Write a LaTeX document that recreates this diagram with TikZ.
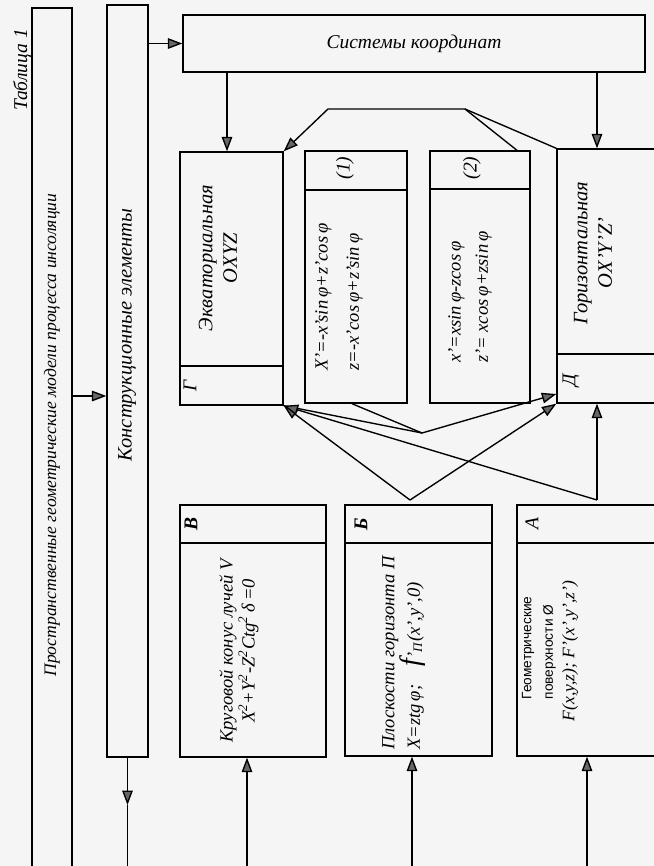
\documentclass[tikz,border=0pt]{standalone}
\usepackage{fontspec}
\setmainfont{Liberation Serif}
\newfontfamily\sansf{Liberation Sans}
\usetikzlibrary{arrows.meta,fit}

\begin{document}
\begin{tikzpicture}[x=0.18mm,y=-0.18mm,line width=0.7pt,
  >={Triangle[length=2.6mm,width=1.9mm,fill=black!60]},
  box/.style={draw,inner sep=0pt,fit={#1}},
  txt/.style={rotate=90,inner sep=0pt,align=center,font=\fontsize{10}{13}\selectfont\itshape},
  letter/.style={rotate=90,inner sep=0pt,font=\fontsize{10}{12}\selectfont\itshape}]
\useasboundingbox (0,0) rectangle (654,866);
\fill[black!4] (0,0) rectangle (654,866);
\clip (0,0) rectangle (654,866);

\node[txt] (tab) at (22,70) {Таблица 1};
\node[box={(32,8) (72,880)}] (models) {};
\node[txt,font=\fontsize{9}{12}\selectfont\itshape] (modelst) at (52,435) {Пространственные геометрические модели процесса инсоляции};
\node[box={(107,5) (148,757)}] (konstr) {};
\node[txt,font=\fontsize{10.5}{14}\selectfont\itshape] (konstrt) at (127,335) {Конструкционные элементы};
\node[box={(183,15) (645,72)}] (sys) {};
\node[txt,rotate=-90] (syst) at (sys.center) {Системы координат};

\node[box={(180,152) (283,405)}] (eq) {};
\draw (eq.west |- 0,366) -- (eq.east |- 0,366);
\node[letter] (eql) at (190,386) {Г};
\node[txt,font=\fontsize{10.5}{12.5}\selectfont\itshape] (eqt) at (218,258) {Экваториальная\\OXYZ};

\node[box={(305,151) (407,403)}] (f1) {};
\draw (f1.west |- 0,190) -- (f1.east |- 0,190);
\node[letter] (f1l) at (345,168) {(1)};
\node[txt,align=left,font=\fontsize{9.5}{16}\selectfont\itshape] (f1t) at (339,297)
  {X’=-x’sin\,φ+z’cos\,φ\\z=-x’cos\,φ+z’sin\,φ};

\node[box={(430,151) (530,403)}] (f2) {};
\draw (f2.west |- 0,189) -- (f2.east |- 0,189);
\node[letter] (f2l) at (472,168) {(2)};
\node[txt,align=left,font=\fontsize{9.5}{14}\selectfont\itshape] (f2t) at (470,297)
  {x’=xsin\,φ-zcos\,φ\\z’= xcos\,φ+zsin\,φ};

\node[box={(557,149) (680,403)}] (hor) {};
\draw (hor.west |- 0,354) -- (hor.east |- 0,354);
\node[letter] (horl) at (571,380) {Д};
\node[txt,font=\fontsize{10.5}{12.5}\selectfont\itshape] (hort) at (593,253) {Горизонтальная\\OX’Y’Z’};

\node[box={(180,505) (326,757)}] (cone) {};
\draw (cone.west |- 0,543) -- (cone.east |- 0,543);
\node[letter,font=\fontsize{10}{12}\selectfont\bfseries\itshape] (conel) at (191,524) {В};
\node[txt,font=\fontsize{9.5}{10}\selectfont\itshape] (conet) at (239,651)
  {Круговой конус лучей V\\X\textsuperscript{2}+Y\textsuperscript{2}-Z\textsuperscript{2}Ctg\textsuperscript{2}\,δ\,=0};

\node[box={(345,505) (492,756)}] (plane) {};
\draw (plane.west |- 0,543) -- (plane.east |- 0,543);
\node[letter,font=\fontsize{10}{12}\selectfont\bfseries\itshape] (planel) at (361,524) {Б};
\node[txt,align=left,font=\fontsize{9.5}{13}\selectfont\itshape] (planet) at (404,653)
  {Плоскости горизонта П\\X=ztg\,φ;\quad{\Large f}’\textsubscript{П}(x’,y’,0)};

\node[box={(517,505) (680,756)}] (surf) {};
\draw (surf.west |- 0,543) -- (surf.east |- 0,543);
\node[letter] (surfl) at (532,524) {А};
\node[txt,align=left,font=\fontsize{9}{11}\selectfont\itshape] (surft) at (550,651)
  {{\sansf\upshape\fontsize{7}{11}\selectfont\hspace*{1.6em}Геометрические}\\
   {\sansf\upshape\fontsize{7}{11}\selectfont\hspace*{1.6em}поверхности Ø}\\
   F(x,y,z); F’(x’,y’,z’)};

\coordinate (kdown) at (127.5,805);
\coordinate (kend) at (127.5,870);
\draw[->] (models.east |- 0,396) -- (konstr.west |- 0,396);
\draw[->] (konstr.east |- sys.west) -- (sys.west);
\draw[->] (konstr.south) -- (kdown);
\draw (kdown) -- (kend);
\draw[->] (sys.south -| 227,0) -- (eq.north -| 227,0);
\draw[->] (sys.south -| 597,0) -- (hor.north -| 597,0);

\coordinate (ua) at (465,109);
\coordinate (ub) at (328,109);
\draw[->] (hor.north west) -- (ua) -- (ub) -- (eq.north east);
\draw (f2.north -| 517,0) -- (ua);

\coordinate (p1) at (422,433);
\coordinate (bapex) at (410,500);
\coordinate (aapex) at (597,500);
\draw[->] (eq.south east) -- (p1) -- (hor.west |- 0,394);
\draw (f1.south -| 352,0) -- (p1);
\draw[->] (bapex) -- (eq.south east);
\draw[->] (bapex) -- (hor.south west);
\draw[->] (aapex) -- (eq.south east);
\draw[->] (aapex) -- (hor.south -| aapex);

\coordinate (vin) at (247,870);
\coordinate (bin) at (412,870);
\coordinate (ain) at (587,870);
\draw[->] (vin) -- (cone.south -| vin);
\draw[->] (bin) -- (plane.south -| bin);
\draw[->] (ain) -- (surf.south -| ain);
\end{tikzpicture}
\end{document}
